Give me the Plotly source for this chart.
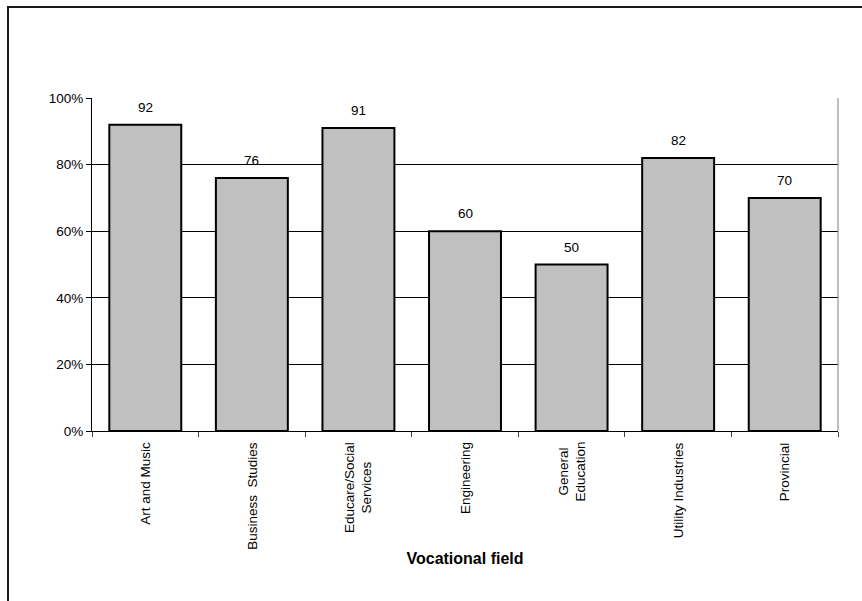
import plotly.graph_objects as go

# Share of respondents per vocational field (percent)
fields = [
    "Art and Music",
    "Business  Studies",
    "Educare/Social Services",
    "Engineering",
    "General Education",
    "Utility Industries",
    "Provincial",
]
field_labels = [
    "Art and Music",
    "Business  Studies",
    "Educare/Social<br>Services",
    "Engineering",
    "General<br>Education",
    "Utility Industries",
    "Provincial",
]
shares = [92, 76, 91, 60, 50, 82, 70]

y_ticks = [0, 20, 40, 60, 80, 100]
y_tick_labels = ["0%", "20%", "40%", "60%", "80%", "100%"]

FONT = "Liberation Sans, Arial, sans-serif"
W, H = 862, 601
M_L, M_R, M_T, M_B = 92, 24, 98, 170

fig = go.Figure()
fig.add_trace(
    go.Bar(
        x=fields,
        y=shares,
        marker=dict(color="#c0c0c0", line=dict(color="black", width=2)),
        hoverinfo="x+y",
    )
)

# value labels above each bar
for f, v in zip(fields, shares):
    fig.add_annotation(
        x=f, y=v, xref="x", yref="y",
        text=str(v), showarrow=False,
        yanchor="bottom", yshift=8,
        font=dict(family=FONT, size=13.5, color="black"),
    )

# vertical category labels, multi-line ones centred on each other
for f, lab in zip(fields, field_labels):
    fig.add_annotation(
        x=f, y=0, xref="x", yref="paper",
        text=lab, showarrow=False, textangle=-90,
        xanchor="center", yanchor="top", yshift=-9, align="center",
        font=dict(family=FONT, size=13.5, color="black"),
    )

# grey right edge of the plotting area
fig.add_shape(
    type="line", xref="paper", yref="paper",
    x0=1, x1=1, y0=0, y1=1,
    line=dict(color="#808080", width=1),
)

# outer chart frame (extends past the right and bottom of the page)
pw = W - M_L - M_R
ph = H - M_T - M_B
def px_x(p):
    return (p - M_L) / pw
def px_y(p):
    return (H - M_B - p) / ph
fig.add_shape(
    type="rect", xref="paper", yref="paper",
    x0=px_x(8), x1=px_x(880), y0=px_y(620), y1=px_y(7),
    line=dict(color="#1a1a1a", width=2),
    fillcolor="rgba(0,0,0,0)",
)

fig.update_layout(
    width=W, height=H,
    margin=dict(l=M_L, r=M_R, t=M_T, b=M_B),
    paper_bgcolor="white",
    plot_bgcolor="white",
    showlegend=False,
    bargap=0.325,
    font=dict(family=FONT, size=13.5, color="black"),
    xaxis=dict(
        type="category",
        showline=True, linecolor="black", linewidth=1,
        ticks="outside", tickson="boundaries", ticklen=5,
        tickcolor="#404040", tickwidth=1,
        showticklabels=False,
        showgrid=False,
        title=dict(
            text="<b>Vocational field</b>",
            font=dict(family=FONT, size=16, color="black"),
            standoff=121,
        ),
    ),
    yaxis=dict(
        range=[0, 100],
        tickvals=y_ticks, ticktext=y_tick_labels,
        showline=True, linecolor="black", linewidth=1,
        ticks="outside", ticklen=5, tickcolor="black",
        showgrid=True, gridcolor="black", gridwidth=1,
        zeroline=False,
        tickfont=dict(family=FONT, size=13.5, color="black"),
    ),
)

fig.write_html("out.html")
